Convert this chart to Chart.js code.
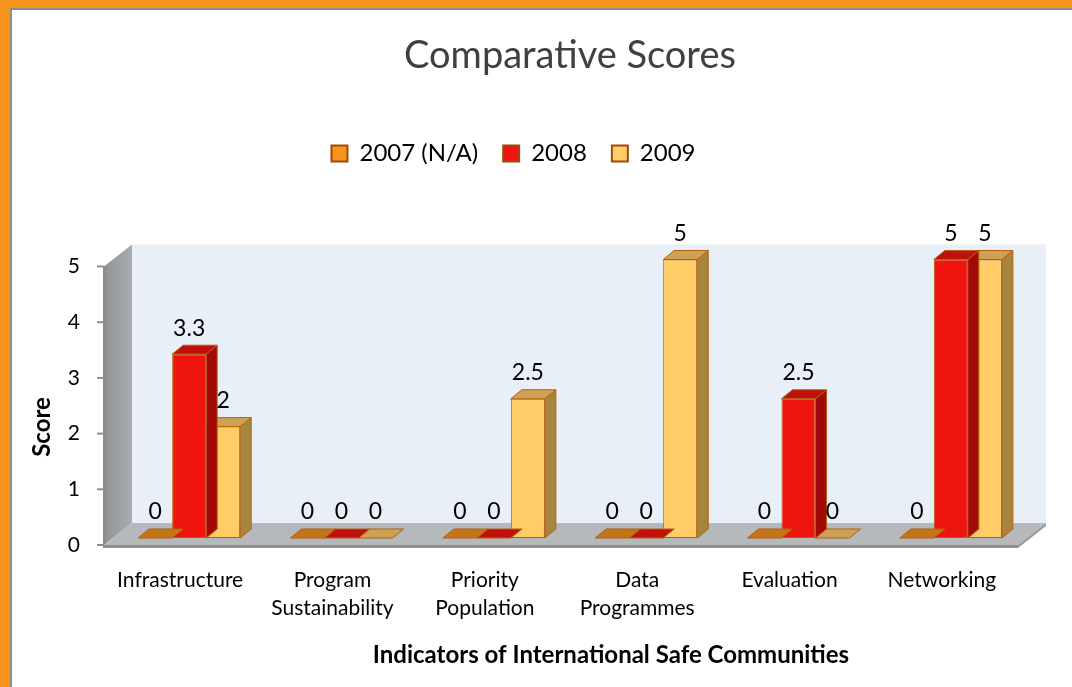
<!DOCTYPE html>
<html>
<head>
<meta charset="utf-8">
<script src="https://cdn.jsdelivr.net/npm/chart.js@4"></script>
<style>
  html, body { margin: 0; padding: 0; background: #fff; }
  #frame {
    position: absolute; left: 0; top: 0; width: 1062px; height: 679px;
    border-top: 8px solid #F7941D; border-left: 10px solid #F7941D;
  }
  #inner {
    position: absolute; left: 10px; top: 8px; width: 1060px; height: 677px;
    border-top: 2px solid #8c8c8c; border-left: 2px solid #8c8c8c;
  }
  #chart { position: absolute; left: 0; top: 0; }
</style>
</head>
<body>
<div id="frame"></div>
<div id="inner"></div>
<canvas id="chart" width="1072" height="687"></canvas>
<script>
const categories = [
  "Infrastructure",
  ["Program", "Sustainability"],
  ["Priority", "Population"],
  ["Data", "Programmes"],
  "Evaluation",
  "Networking"
];
const seriesNames = ["2007 (N/A)", "2008", "2009"];
const scores2007 = [0, 0, 0, 0, 0, 0];
const scores2008 = [3.3, 0, 0, 0, 2.5, 5];
const scores2009 = [2, 0, 2.5, 5, 0, 5];
const yTicks = [0, 1, 2, 3, 4, 5];

const frontColors = ["#F7941D", "#F0140E", "#FFCC66"];
const topColors = ["#C27618", "#C0100B", "#CDA255"];
const sideColors = ["#A5600F", "#A10A06", "#A8853F"];
const edge = "#B5600F";
const FONT = "Lato, 'DejaVu Sans', sans-serif";

// depth of each bar, and the floor/wall offsets relative to the bar plane
const barDx = 11, barDy = -9;
const frontDx = -9, frontDy = 7, backDx = 19, backDy = -15;

function poly(ctx, pts, fill, stroke) {
  ctx.beginPath();
  ctx.moveTo(pts[0][0], pts[0][1]);
  for (let i = 1; i < pts.length; i++) ctx.lineTo(pts[i][0], pts[i][1]);
  ctx.closePath();
  ctx.fillStyle = fill;
  ctx.fill();
  if (stroke) { ctx.strokeStyle = stroke; ctx.lineWidth = 1; ctx.stroke(); }
}

const box3d = {
  id: "box3d",
  beforeDatasetsDraw(chart) {
    const ctx = chart.ctx, y = chart.scales.y, a = chart.chartArea;
    const y0 = y.getPixelForValue(0), y5 = y.getPixelForValue(5);
    const L = a.left, R = a.right;
    ctx.save();
    // back wall
    ctx.fillStyle = "#E9EFF6";
    ctx.fillRect(L + backDx, y5 + backDy, R - L, y0 - y5);
    // left wall
    const g = ctx.createLinearGradient(L + frontDx, 0, L + backDx, 0);
    g.addColorStop(0, "#8F9395");
    g.addColorStop(1, "#A9ACAE");
    poly(ctx, [[L + frontDx, y5 + frontDy], [L + backDx, y5 + backDy],
      [L + backDx, y0 + backDy], [L + frontDx, y0 + frontDy]], g);
    ctx.fillStyle = "#8A8D90";
    ctx.fillRect(L + frontDx - 1, y5 + frontDy, 3, y0 - y5);
    // floor
    poly(ctx, [[L + frontDx, y0 + frontDy], [R + frontDx, y0 + frontDy],
      [R + backDx, y0 + backDy], [L + backDx, y0 + backDy]], "#B5B9BC");
    poly(ctx, [[L + frontDx - 1, y0 + frontDy], [R + frontDx, y0 + frontDy],
      [R + frontDx, y0 + frontDy + 3], [L + frontDx - 1, y0 + frontDy + 3]], "#8E8E8E");
    poly(ctx, [[R + frontDx, y0 + frontDy], [R + backDx, y0 + backDy],
      [R + backDx, y0 + backDy + 3], [R + frontDx, y0 + frontDy + 3]], "#9A9A9A");
    // tick marks on the front edge of the left wall
    ctx.strokeStyle = "#8E8E8E";
    ctx.lineWidth = 2;
    yTicks.forEach(v => {
      const p = y.getPixelForValue(v) + frontDy;
      ctx.beginPath();
      ctx.moveTo(L + frontDx - 7, p);
      ctx.lineTo(L + frontDx, p);
      ctx.stroke();
    });
    ctx.restore();
  },
  afterDatasetDraw(chart, args) {
    const ctx = chart.ctx, i = args.index;
    ctx.save();
    args.meta.data.forEach(bar => {
      const l = bar.x - bar.width / 2, r = bar.x + bar.width / 2;
      const t = bar.y, b = bar.base;
      if (b - t > 0.5) {
        poly(ctx, [[r, t], [r + barDx, t + barDy], [r + barDx, b + barDy], [r, b]], sideColors[i], edge);
      }
      poly(ctx, [[l, t], [l + barDx, t + barDy], [r + barDx, t + barDy], [r, t]], topColors[i], edge);
    });
    ctx.restore();
  },
  afterDatasetsDraw(chart) {
    const ctx = chart.ctx;
    ctx.save();
    ctx.fillStyle = "#000";
    ctx.textAlign = "center";
    ctx.textBaseline = "middle";
    ctx.font = "23px " + FONT;
    chart.data.datasets.forEach((ds, i) => {
      chart.getDatasetMeta(i).data.forEach((bar, j) => {
        ctx.fillText(String(ds.data[j]), bar.x, bar.y - 26);
      });
    });
    // axis titles
    ctx.font = "bold 24px " + FONT;
    ctx.fillText("Indicators of International Safe Communities", 611, 655);
    ctx.translate(42, 427);
    ctx.rotate(-Math.PI / 2);
    ctx.font = "bold 24px " + FONT;
    ctx.fillText("Score", 0, 0);
    ctx.restore();
  }
};

const datasets = [scores2007, scores2008, scores2009].map((d, i) => ({
  label: seriesNames[i],
  data: d,
  backgroundColor: frontColors[i],
  borderColor: edge,
  borderWidth: 1,
  borderSkipped: false,
  clip: false,
  categoryPercentage: 0.67,
  barPercentage: 1.0
}));

new Chart(document.getElementById("chart"), {
  type: "bar",
  data: { labels: categories, datasets: datasets },
  plugins: [box3d],
  options: {
    responsive: false,
    animation: false,
    layout: { padding: { left: 0, right: 45, top: 0, bottom: 0 } },
    plugins: {
      tooltip: { enabled: false },
      title: {
        display: true,
        fullSize: false,
        text: "Comparative Scores",
        color: "#404040",
        font: { family: FONT, size: 38, weight: "normal" },
        padding: { top: 33, bottom: 37.9 }
      },
      legend: {
        display: true,
        position: "top",
        labels: {
          color: "#000",
          font: { family: FONT, size: 24 },
          boxWidth: 16,
          boxHeight: 16,
          padding: 25,
          generateLabels(chart) {
            return Chart.defaults.plugins.legend.labels.generateLabels(chart).map(it => {
              it.lineWidth = 2;
              it.strokeStyle = "#9C4A0F";
              return it;
            });
          }
        }
      }
    },
    scales: {
      x: {
        grid: { display: false, drawTicks: false },
        border: { display: false },
        ticks: {
          color: "#000",
          font: { family: FONT, size: 21, lineHeight: 1.3 },
          padding: 29,
          labelOffset: -9,
          maxRotation: 0,
          autoSkip: false
        },
        afterFit(s) { s.height = 149; }
      },
      x2: {
        type: "category",
        position: "top",
        labels: [""],
        grid: { display: false, drawTicks: false },
        border: { display: false },
        ticks: { display: false },
        afterFit(s) { s.height = 84; }
      },
      y: {
        min: 0,
        max: 5,
        grid: { display: false, drawTicks: false },
        border: { display: false },
        ticks: {
          stepSize: 1,
          color: "#000",
          font: { family: FONT, size: 21 },
          padding: 33,
          labelOffset: 7
        },
        afterFit(s) { s.width = 113; }
      }
    }
  }
});
</script>
</body>
</html>
